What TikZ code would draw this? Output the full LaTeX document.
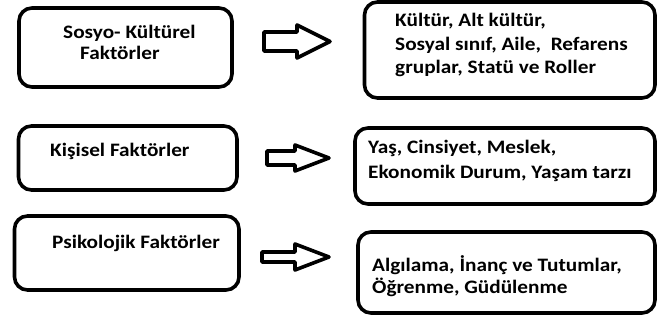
\documentclass[tikz,border=0pt]{standalone}
\usepackage{fontspec}
\setmainfont[FakeStretch=1.12]{Carlito}
\begin{document}
\begin{tikzpicture}[x=1pt,y=-1pt,
  box/.style={draw=black, line width=3.6pt, rounded corners=13pt, outer sep=0pt,
    inner sep=0pt, anchor=north west},
  boxtext/.style={anchor=base west, inner sep=0pt, align=left,
    font=\fontsize{19}{23}\selectfont\bfseries},
  blockarrow/.style={draw=black, line width=3.6pt, line join=round, fill=white}]
\useasboundingbox[fill=white] (0,0) rectangle (657,320);

% factor boxes (left column)
\node[box, minimum width=213pt, minimum height=79pt] (sosyo) at (19,8) {};
\node[box, minimum width=218.5pt, minimum height=64pt] (kisisel) at (18.5,126) {};
\node[box, minimum width=224.5pt, minimum height=74pt] (psiko) at (14.5,216) {};

% detail boxes (right column)
\node[box, minimum width=290.5pt, minimum height=96pt] (sosyodet) at (364.5,2) {};
\node[box, minimum width=300pt, minimum height=76pt] (kisiseldet) at (355,128) {};
\node[box, minimum width=297pt, minimum height=81pt] (psikodet) at (358,232) {};

% box texts (anchored at the baseline of the last line)
\node[boxtext, font=\fontsize{19}{21}\selectfont\bfseries] (sosyotxt) at (63,59.5)
  {Sosyo- Kültürel\\\hspace*{17pt}Faktörler};
\node[boxtext] (kisiseltxt) at (50,157) {Kişisel Faktörler};
\node[boxtext] (psikotxt) at (52,248.5) {Psikolojik Faktörler};
\node[boxtext, font=\fontsize{19}{23.5}\selectfont\bfseries] (sosyodettxt) at (395,74)
  {Kültür, Alt kültür,\\Sosyal sınıf, Aile,\ \ Refarens\\gruplar, Statü ve Roller};
\node[boxtext, font=\fontsize{19}{24.3}\selectfont\bfseries] (kisiseldettxt) at (368,178.3)
  {Yaş, Cinsiyet, Meslek,\\Ekonomik Durum, Yaşam tarzı};
\node[boxtext, font=\fontsize{19}{21.6}\selectfont\bfseries] (psikodettxt) at (372,293.3)
  {Algılama, İnanç ve Tutumlar,\\Öğrenme, Güdülenme};

% block arrows between the columns
\draw[blockarrow] (264,32) -- (297,32) -- (297,25) -- (330,41.5) -- (297,58)
  -- (297,51) -- (264,51) -- cycle;
\draw[blockarrow] (267,151) -- (295,151) -- (295,145) -- (329,158) -- (295,171)
  -- (295,165) -- (267,165) -- cycle;
\draw[blockarrow] (262,252) -- (295,252) -- (295,244) -- (329,257) -- (295,270)
  -- (295,262) -- (262,262) -- cycle;
\end{tikzpicture}
\end{document}
